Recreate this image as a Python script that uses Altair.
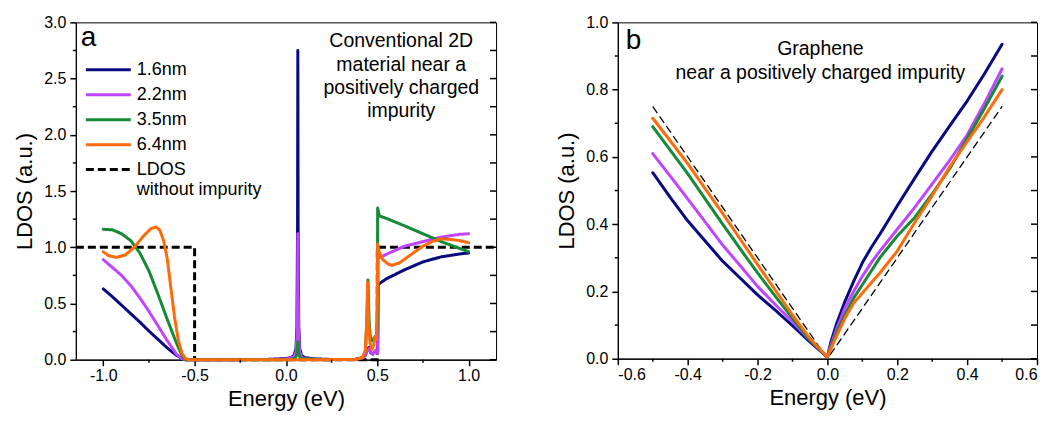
import altair as alt
import pandas as pd

FONT = "Liberation Sans"
SERIES = ["1.6nm", "2.2nm", "3.5nm", "6.4nm"]
REF_NAME = "LDOS without impurity"
ALL_NAMES = SERIES + [REF_NAME]
COLORS = ["#0a0a80", "#bf45ff", "#168a36", "#ff6a0a", "#000000"]

# ---------------- panel a : conventional 2D material ----------------
a_e_16 = [-1.0, -0.95, -0.9, -0.85, -0.8, -0.75, -0.7, -0.65, -0.6, -0.57, -0.55, -0.3, -0.1,
          0.0, 0.03, 0.045, 0.055, 0.06, 0.0635, 0.065, 0.0665, 0.07, 0.075, 0.085, 0.1, 0.15, 0.25,
          0.38, 0.42, 0.435, 0.445, 0.455, 0.465, 0.475, 0.485, 0.49, 0.497, 0.502, 0.505,
          0.55, 0.65, 0.75, 0.85, 0.95, 1.0]
a_l_16 = [0.63, 0.56, 0.485, 0.41, 0.335, 0.255, 0.18, 0.105, 0.04, 0.01, 0.0, 0.0, 0.003,
          0.01, 0.02, 0.04, 0.1, 0.3, 1.2, 2.75, 1.2, 0.3, 0.1, 0.04, 0.02, 0.008, 0.002,
          0.003, 0.015, 0.04, 0.09, 0.11, 0.06, 0.05, 0.07, 0.08, 0.06, 0.06, 0.67,
          0.72, 0.80, 0.87, 0.915, 0.94, 0.95]

a_e_22 = [-1.0, -0.95, -0.9, -0.85, -0.8, -0.75, -0.7, -0.65, -0.6, -0.57, -0.55, -0.3, -0.1,
          0.0, 0.045, 0.055, 0.06, 0.0635, 0.065, 0.0665, 0.07, 0.075, 0.085, 0.1, 0.15, 0.25,
          0.38, 0.42, 0.435, 0.445, 0.455, 0.465, 0.475, 0.485, 0.49, 0.497, 0.502, 0.505,
          0.515, 0.56, 0.65, 0.75, 0.85, 0.95, 1.0]
a_l_22 = [0.89, 0.82, 0.75, 0.66, 0.55, 0.43, 0.30, 0.17, 0.05, 0.01, 0.0, 0.0, 0.002,
          0.005, 0.025, 0.07, 0.2, 0.6, 1.12, 0.6, 0.2, 0.07, 0.025, 0.01, 0.003, 0.001,
          0.003, 0.015, 0.04, 0.08, 0.1, 0.06, 0.05, 0.07, 0.08, 0.06, 0.06, 0.95,
          0.91, 0.945, 1.01, 1.05, 1.09, 1.115, 1.12]

a_e_35 = [-1.0, -0.95, -0.9, -0.85, -0.8, -0.75, -0.7, -0.65, -0.6, -0.57, -0.55, -0.3,
          0.0, 0.05, 0.06, 0.065, 0.07, 0.08, 0.2,
          0.38, 0.42, 0.435, 0.443, 0.449, 0.455, 0.462, 0.472, 0.482, 0.49, 0.497, 0.5, 0.502,
          0.51, 0.56, 0.65, 0.75, 0.85, 0.95, 1.0]
a_l_35 = [1.16, 1.155, 1.12, 1.06, 0.95, 0.79, 0.58, 0.36, 0.15, 0.04, 0.0, 0.0,
          0.0, 0.01, 0.05, 0.16, 0.05, 0.01, 0.0,
          0.003, 0.02, 0.08, 0.35, 0.71, 0.35, 0.2, 0.17, 0.19, 0.21, 0.2, 0.4, 1.35,
          1.28, 1.25, 1.19, 1.12, 1.05, 0.99, 0.96]

a_e_64 = [-1.0, -0.97, -0.93, -0.88, -0.83, -0.78, -0.74, -0.71, -0.69, -0.67, -0.65, -0.63,
          -0.61, -0.59, -0.57, -0.55, -0.53, -0.3, 0.0, 0.2,
          0.38, 0.42, 0.435, 0.442, 0.447, 0.452, 0.46, 0.47, 0.48, 0.487, 0.495, 0.5, 0.502,
          0.51, 0.53, 0.56, 0.58, 0.62, 0.68, 0.75, 0.8, 0.85, 0.9, 0.95, 1.0]
a_l_64 = [0.96, 0.925, 0.91, 0.93, 1.0, 1.10, 1.165, 1.18, 1.15, 1.06, 0.90, 0.64,
          0.38, 0.18, 0.06, 0.01, 0.0, 0.0, 0.0, 0.0,
          0.003, 0.02, 0.08, 0.35, 0.69, 0.35, 0.15, 0.09, 0.13, 0.2, 0.18, 0.5, 1.03,
          0.96, 0.89, 0.85, 0.84, 0.86, 0.93, 1.01, 1.05, 1.075, 1.07, 1.06, 1.04]

a_ref_e = [-1.15, -0.5, -0.5, 0.5, 0.5, 1.15]
a_ref_l = [1.0, 1.0, 0.0, 0.0, 1.0, 1.0]

# ---------------- panel b : graphene ----------------
b_e = [-0.5, -0.45, -0.4, -0.35, -0.3, -0.25, -0.2, -0.15, -0.1, -0.05, 0.0,
       0.01, 0.025, 0.05, 0.075, 0.1, 0.125, 0.15, 0.2, 0.25, 0.3, 0.35, 0.4, 0.45, 0.5]
b_l_16 = [0.553, 0.48, 0.41, 0.35, 0.29, 0.24, 0.19, 0.145, 0.098, 0.05, 0.005,
          0.05, 0.10, 0.17, 0.23, 0.285, 0.33, 0.37, 0.455, 0.537, 0.617, 0.692, 0.766, 0.848, 0.935]
b_l_22 = [0.61, 0.543, 0.475, 0.407, 0.338, 0.277, 0.215, 0.162, 0.11, 0.055, 0.005,
          0.04, 0.085, 0.15, 0.2, 0.245, 0.285, 0.32, 0.385, 0.45, 0.52, 0.59, 0.665, 0.76, 0.862]
b_l_35 = [0.69, 0.62, 0.55, 0.475, 0.40, 0.327, 0.255, 0.187, 0.12, 0.055, 0.005,
          0.035, 0.075, 0.13, 0.18, 0.22, 0.26, 0.30, 0.365, 0.42, 0.49, 0.565, 0.655, 0.745, 0.84]
b_l_64 = [0.715, 0.648, 0.58, 0.506, 0.432, 0.356, 0.28, 0.205, 0.13, 0.06, 0.005,
          0.03, 0.065, 0.12, 0.165, 0.195, 0.225, 0.255, 0.32, 0.405, 0.485, 0.57, 0.645, 0.72, 0.80]
b_ref_e = [-0.5, 0.0, 0.5]
b_ref_l = [0.75, 0.0, 0.75]

# ---------------- tick values ----------------
xa_major = [-1.0, -0.5, 0.0, 0.5, 1.0]
xa_minor = [-0.75, -0.25, 0.25, 0.75]
ya_major = [0.0, 0.5, 1.0, 1.5, 2.0, 2.5, 3.0]
ya_minor = [0.25, 0.75, 1.25, 1.75, 2.25, 2.75]
xb_major = [-0.6, -0.4, -0.2, 0.0, 0.2, 0.4, 0.6]
xb_minor = [-0.5, -0.3, -0.1, 0.1, 0.3, 0.5]
yb_major = [0.0, 0.2, 0.4, 0.6, 0.8, 1.0]
yb_minor = [0.1, 0.3, 0.5, 0.7, 0.9]

ANNOT_A = "Conventional 2D\nmaterial near a\npositively charged\nimpurity"
ANNOT_B = "Graphene\nnear a positively charged impurity"


def rows(name, es, ls):
    return [{"series": name, "E": e, "L": l, "i": i} for i, (e, l) in enumerate(zip(es, ls))]


df_a = pd.DataFrame(rows(SERIES[0], a_e_16, a_l_16) + rows(SERIES[1], a_e_22, a_l_22)
                    + rows(SERIES[2], a_e_35, a_l_35) + rows(SERIES[3], a_e_64, a_l_64))
df_a_ref = pd.DataFrame(rows(REF_NAME, a_ref_e, a_ref_l))
df_b = pd.DataFrame(rows(SERIES[0], b_e, b_l_16) + rows(SERIES[1], b_e, b_l_22)
                    + rows(SERIES[2], b_e, b_l_35) + rows(SERIES[3], b_e, b_l_64))
df_b_ref = pd.DataFrame(rows(REF_NAME, b_ref_e, b_ref_l))

W_A, H_A = 421, 338
W_B, H_B = 420, 337

LABEL_EXPR = "(datum.value < -0.0001 ? '-' : '') + format(abs(datum.value), '.1f')"


def axis_main(values, title, orient):
    return alt.Axis(values=values, tickSize=6, tickColor="#000000", tickWidth=1.5,
                    domainColor="#000000", domainWidth=1.2, labelExpr=LABEL_EXPR,
                    title=title, orient=orient, grid=False,
                    labelPadding=4 if orient == "left" else 2,
                    titlePadding=7 if orient == "left" else 5,
                    titleFontSize=22, titleFontWeight="normal",
                    titleColor="#000000", labelFontSize=16, labelColor="#000000")


legend = alt.Legend(orient="none", legendX=22, legendY=37, title=None,
                    symbolType="M-2.5,0H2.5", symbolSize=324,
                    labelFontSize=18, labelFont=FONT, labelColor="#000000",
                    labelOffset=18, rowPadding=5, padding=0, labelLimit=0,
                    labelExpr="datum.label == 'LDOS without impurity' ? ['LDOS', 'without impurity'] : datum.label")

color_a = alt.Color("series:N", scale=alt.Scale(domain=ALL_NAMES, range=COLORS), legend=legend)
dash_a = alt.StrokeDash("series:N", scale=alt.Scale(domain=ALL_NAMES,
                        range=[[1, 0], [1, 0], [1, 0], [1, 0], [8, 4]]), legend=legend)
width_a = alt.StrokeWidth("series:N", scale=alt.Scale(domain=ALL_NAMES, range=[3, 3, 3, 3, 1.4]),
                          legend=legend)


def panel(df, df_ref, xdom, ydom, xmaj, xmin, ymaj, ymin, w, h, annot, annot_x, annot_y,
          letter, letter_x, letter_y, with_legend):
    xsc = alt.Scale(domain=xdom, nice=False, zero=False)
    ysc = alt.Scale(domain=ydom, nice=False, zero=False)
    x_axis = axis_main(xmaj, "Energy (eV)", "bottom")
    y_axis = axis_main(ymaj, "LDOS (a.u.)", "left")
    X = alt.X("E:Q", scale=xsc, axis=x_axis)
    Y = alt.Y("L:Q", scale=ysc, axis=y_axis)

    if with_legend:
        ref = alt.Chart(df_ref).mark_line(strokeCap="butt").encode(
            x=X, y=Y, color=color_a, strokeDash=dash_a, strokeWidth=width_a, order="i:Q")
        lines = alt.Chart(df).mark_line(strokeCap="round", strokeJoin="round").encode(
            x=X, y=Y, color=color_a, strokeDash=dash_a, strokeWidth=width_a, order="i:Q")
    else:
        ref = alt.Chart(df_ref).mark_line(color="#000000", strokeWidth=1.3, strokeDash=[8, 4]).encode(
            x=X, y=Y, order="i:Q")
        lines = alt.Chart(df).mark_line(strokeWidth=3, strokeCap="round", strokeJoin="round").encode(
            x=X, y=Y,
            color=alt.Color("series:N", scale=alt.Scale(domain=SERIES, range=COLORS[:4]), legend=None),
            order="i:Q")

    ty = alt.Y("v:Q", scale=ysc, axis=y_axis)
    tx = alt.X("v:Q", scale=xsc, axis=x_axis)
    t_lm = alt.Chart(pd.DataFrame({"v": ymin})).mark_rule(color="#000000", strokeWidth=1.5).encode(
        y=ty, x=alt.value(-3), x2=alt.value(0))
    t_r = alt.Chart(pd.DataFrame({"v": ymaj + ymin})).mark_rule(color="#000000", strokeWidth=1.5).encode(
        y=ty, x=alt.value(w - 6), x2=alt.value(w))
    t_bm = alt.Chart(pd.DataFrame({"v": xmin})).mark_rule(color="#000000", strokeWidth=1.5).encode(
        x=tx, y=alt.value(h), y2=alt.value(h + 3))
    txt = alt.Chart(pd.DataFrame({"t": [annot]})).mark_text(
        font=FONT, fontSize=19.5, align="center", baseline="alphabetic", lineBreak="\n",
        lineHeight=23.3, color="#000000").encode(text="t:N", x=alt.value(annot_x), y=alt.value(annot_y))
    let = alt.Chart(pd.DataFrame({"t": [letter]})).mark_text(
        font=FONT, fontSize=28, align="left", baseline="alphabetic", color="#000000").encode(
        text="t:N", x=alt.value(letter_x), y=alt.value(letter_y))
    return alt.layer(ref, lines, t_lm, t_r, t_bm, txt, let).properties(width=w, height=h)


pa = panel(df_a, df_a_ref, [-1.15, 1.15], [0, 3.0], xa_major, xa_minor, ya_major, ya_minor,
           W_A, H_A, ANNOT_A, 326, 25, "a", 5, 24, True)
pb = panel(df_b, df_b_ref, [-0.6, 0.6], [0, 1.0], xb_major, xb_minor, yb_major, yb_minor,
           W_B, H_B, ANNOT_B, 203, 33, "b", 8, 27, False)

chart = alt.hconcat(pa, pb, spacing=52).resolve_scale(
    color="independent", strokeDash="independent", strokeWidth="independent",
    x="independent", y="independent").configure_view(stroke="#000000").configure_axis(
    labelFont=FONT, titleFont=FONT)

chart.save("out.html", embed_options={"renderer": "svg", "actions": False})
